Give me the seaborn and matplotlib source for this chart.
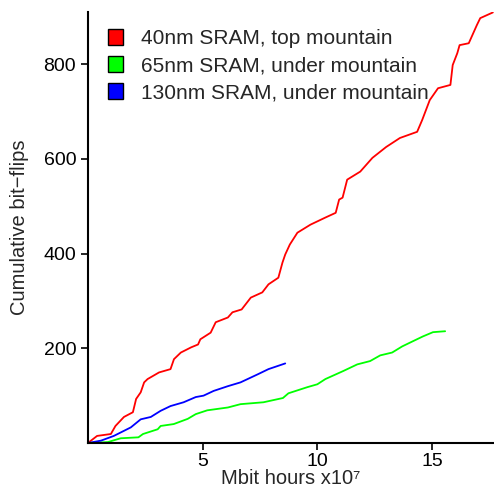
import pandas as pd
import matplotlib
matplotlib.use("Agg")
import matplotlib.pyplot as plt
import seaborn as sns
from matplotlib.patches import Patch

# Valores (x en Mbit horas x1e7, y bit-flips acumulados)
x_40 = [0.0, 0.4, 1.0, 1.2, 1.57, 1.96, 2.1, 2.3, 2.45, 2.6, 3.1, 3.6, 3.75, 4.05, 4.5, 4.8,
        4.9, 5.35, 5.57, 6.1, 6.3, 6.7, 7.1, 7.6, 7.87, 8.3, 8.48, 8.6, 8.8, 9.13, 9.7,
        10.35, 10.8, 10.95, 11.1, 11.3, 11.87, 12.4, 13.0, 13.6, 14.35, 14.57, 14.9, 15.26,
        15.8, 15.9, 16.1, 16.2, 16.6, 16.95, 17.1, 17.65]
y_40 = [0, 15, 19, 36, 55, 65, 93, 107, 128, 135, 149, 156, 177, 191, 202, 208,
        219, 233, 255, 265, 276, 282, 307, 318, 335, 349, 381, 398, 419, 444, 461,
        476, 486, 514, 518, 556, 573, 602, 625, 644, 657, 682, 724, 749,
        756, 798, 823, 840, 844, 882, 897, 909]

x_65 = [0.0, 0.87, 1.43, 2.2, 2.4, 3.04, 3.17, 3.74, 4.35, 4.7, 5.2, 6.1, 6.65, 7.65,
        8.5, 8.74, 9.57, 10.0, 10.35, 11.13, 11.74, 12.3, 12.74, 13.26, 13.7, 14.17,
        14.6, 15.04, 15.57]
y_65 = [0, 2, 10, 12, 19, 29, 36, 40, 51, 61, 69, 75, 82, 86,
        95, 105, 118, 124, 135, 152, 166, 173, 185, 191, 204, 215,
        225, 234, 236]

x_130 = [0.0, 0.57, 1.13, 1.87, 2.3, 2.74, 3.17, 3.6, 4.17, 4.7, 5.04, 5.48, 6.1, 6.65,
         7.4, 7.87, 8.6]
y_130 = [0, 5, 15, 33, 50, 55, 68, 78, 86, 97, 100, 110, 120, 128,
         145, 156, 168]

series = ["40nm SRAM, top mountain", "65nm SRAM, under mountain", "130nm SRAM, under mountain"]
colores = ["#ff0000", "#00ff00", "#0000ff"]

df = pd.concat([
    pd.DataFrame({"x": x_40, "y": y_40, "serie": series[0]}),
    pd.DataFrame({"x": x_65, "y": y_65, "serie": series[1]}),
    pd.DataFrame({"x": x_130, "y": y_130, "serie": series[2]}),
])

sns.set_style("ticks")
plt.rcParams["font.family"] = ["Liberation Sans", "DejaVu Sans"]

fig = plt.figure(figsize=(4.94, 4.93), dpi=100)
ax = fig.add_axes([0.178, 0.1014, 0.822, 0.8743])

sns.lineplot(data=df, x="x", y="y", hue="serie", palette=colores,
             linewidth=1.3, legend=False, ax=ax,
             estimator=None, sort=False)

ax.set_xlim(0, 17.7)
ax.set_ylim(0, 910)
ax.set_xticks([5, 10, 15])
ax.set_yticks([200, 400, 600, 800])
ax.tick_params(labelsize=14, length=5, width=1.2, colors="black")
ax.tick_params(axis="x", pad=2.5)
ax.set_xlabel("Mbit hours x10\u2077", fontsize=14.5, labelpad=-1)
ax.set_ylabel("Cumulative bit\u2212flips", fontsize=14.5, labelpad=10)
sns.despine(ax=ax)
for s in ["left", "bottom"]:
    ax.spines[s].set_linewidth(1.5)
    ax.spines[s].set_color("black")

handles = [Patch(facecolor=c, edgecolor="black", linewidth=1.0) for c in colores]
ax.legend(handles, series, loc="upper left", frameon=False, fontsize=15,
          handlelength=0.68, handleheight=0.8, handletextpad=0.9,
          labelspacing=0.38, borderaxespad=0.0, bbox_to_anchor=(0.03, 0.98))

fig.savefig("out.png", dpi=100)
